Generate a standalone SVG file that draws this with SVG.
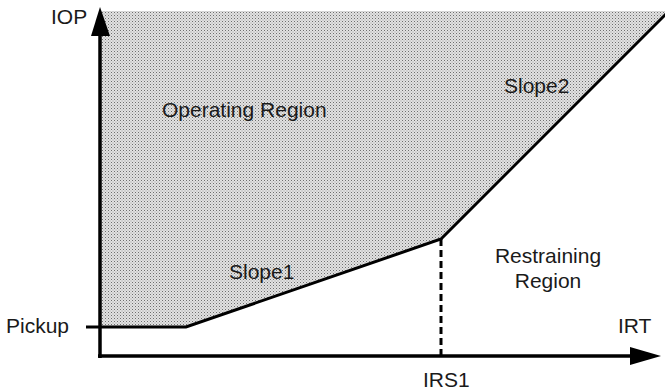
<svg xmlns="http://www.w3.org/2000/svg" width="665" height="391" viewBox="0 0 665 391">
  <style>
    text { font-family: "Liberation Sans", Arial, sans-serif; font-size: 21px; fill: #1a1a1a; }
    .ln { stroke: #000; stroke-width: 3; fill: none; }
    .ax { stroke: #000; stroke-width: 3.5; fill: none; }
  </style>
  <defs>
    <pattern id="dots" width="3" height="3" patternUnits="userSpaceOnUse">
      <rect width="3" height="3" fill="#e2e2e2"/>
      <rect x="0" y="0" width="1" height="1" fill="#6e6e6e"/>
      <rect x="1.5" y="1.5" width="1" height="1" fill="#9a9a9a"/>
    </pattern>
  </defs>
  <rect width="665" height="391" fill="#fff"/>
  <g id="operating-region">
    <polygon points="100,11 665,11 665,15 441,239 186,327 100,327" fill="url(#dots)"/>
    <text x="162" y="117">Operating Region</text>
  </g>
  <g id="characteristic">
    <polyline class="ln" points="86,327 186,327 441,239 666,14"/>
    <line class="ln" x1="441" y1="239" x2="441" y2="356" stroke-dasharray="7 4"/>
  </g>
  <g id="axes">
    <line class="ax" x1="100" y1="358" x2="100" y2="30"/>
    <polygon points="100,7 91,36 110,36" fill="#000"/>
    <line class="ax" x1="98" y1="356" x2="635" y2="356"/>
    <polygon points="661,356 630,347 630,365" fill="#000"/>
  </g>
  <g id="labels">
    <text x="51" y="24">IOP</text>
    <text x="6" y="333">Pickup</text>
    <text x="618" y="333">IRT</text>
    <text x="423" y="387">IRS1</text>
    <text x="229" y="279">Slope1</text>
    <text x="504" y="93">Slope2</text>
    <text x="548" y="263" text-anchor="middle">Restraining</text>
    <text x="548" y="288" text-anchor="middle">Region</text>
  </g>
</svg>
